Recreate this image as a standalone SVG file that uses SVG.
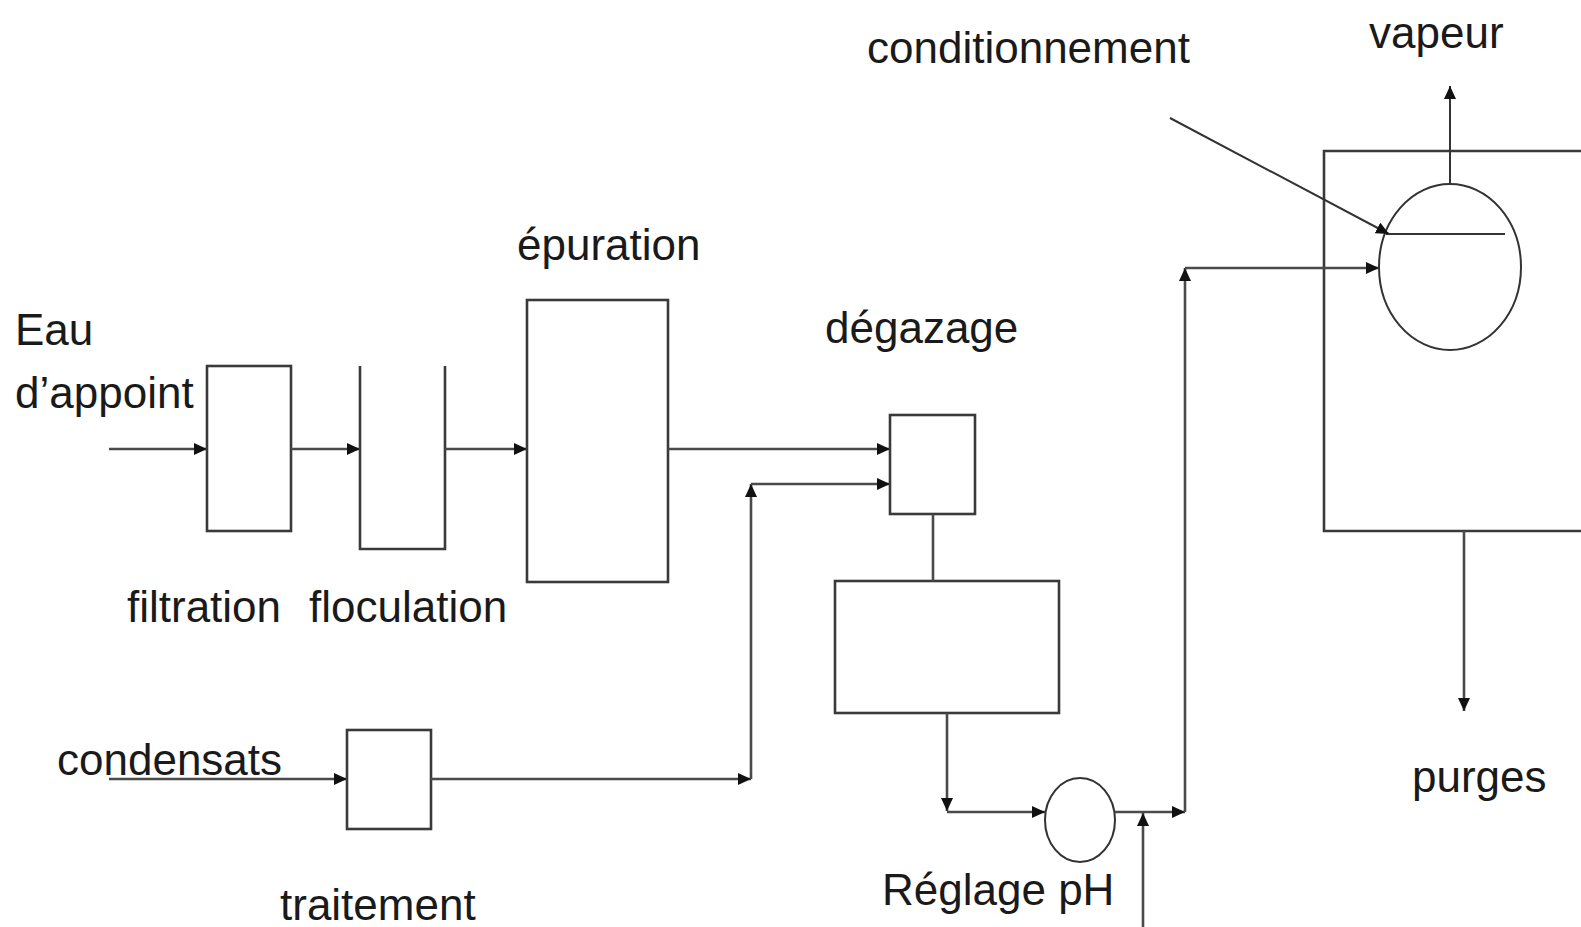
<svg xmlns="http://www.w3.org/2000/svg" width="1581" height="927" viewBox="0 0 1581 927">
  <style>
    .box { fill: none; stroke: #3a3a3a; stroke-width: 2.6; }
    .flow { fill: none; stroke: #4a4a4a; stroke-width: 2.6; }
    .thin { fill: none; stroke: #333; stroke-width: 2; }
    .lbl { font-family: "Liberation Sans", Arial, sans-serif; font-size: 44px; fill: #1a1a1a; }
  </style>
  <defs>
    <marker id="arrow" markerUnits="userSpaceOnUse" markerWidth="14" markerHeight="12" refX="13" refY="6" orient="auto">
      <path d="M0,0 L13,6 L0,12 Z" fill="#111"/>
    </marker>
  </defs>
  <rect width="1581" height="927" fill="#fff"/>

  <!-- process units -->
  <g id="filtration">
    <rect class="box" x="207" y="366" width="84" height="165"/>
    <text class="lbl" x="127" y="622">filtration</text>
  </g>
  <g id="floculation">
    <path class="box" d="M360,366 V549 H445 V366"/>
    <text class="lbl" x="309" y="622">floculation</text>
  </g>
  <g id="epuration">
    <rect class="box" x="527" y="300" width="141" height="282"/>
    <text class="lbl" x="517" y="260">épuration</text>
  </g>
  <g id="degazage">
    <rect class="box" x="890" y="415" width="85" height="99"/>
    <text class="lbl" x="825" y="343">dégazage</text>
  </g>
  <g id="bache">
    <rect class="box" x="835" y="581" width="224" height="132"/>
  </g>
  <g id="traitement">
    <rect class="box" x="347" y="730" width="84" height="99"/>
    <text class="lbl" x="280" y="920">traitement</text>
  </g>
  <g id="reglage-ph">
    <ellipse class="thin" cx="1080" cy="820" rx="35" ry="42"/>
    <text class="lbl" x="882" y="905">Réglage pH</text>
  </g>
  <g id="chaudiere">
    <path class="box" d="M1600,151 H1324 V531 H1600"/>
    <ellipse class="thin" cx="1450" cy="267" rx="71" ry="83"/>
    <line class="thin" x1="1386" y1="234" x2="1505" y2="234"/>
  </g>
  <g id="eau-appoint">
    <text class="lbl" x="15" y="345">Eau</text>
    <text class="lbl" x="15" y="408">d’appoint</text>
  </g>
  <g id="condensats">
    <text class="lbl" x="57" y="775">condensats</text>
  </g>
  <g id="vapeur">
    <text class="lbl" x="1369" y="48">vapeur</text>
  </g>
  <g id="conditionnement">
    <text class="lbl" x="867" y="63">conditionnement</text>
  </g>
  <g id="purges">
    <text class="lbl" x="1412" y="792">purges</text>
  </g>

  <!-- flows -->
  <g id="connectors">
    <line class="flow" x1="109" y1="449" x2="207" y2="449" marker-end="url(#arrow)"/>
    <line class="flow" x1="291" y1="449" x2="360" y2="449" marker-end="url(#arrow)"/>
    <line class="flow" x1="445" y1="449" x2="527" y2="449" marker-end="url(#arrow)"/>
    <line class="flow" x1="668" y1="449" x2="890" y2="449" marker-end="url(#arrow)"/>
    <line class="flow" x1="109" y1="779" x2="347" y2="779" marker-end="url(#arrow)"/>
    <line class="flow" x1="431" y1="779" x2="751" y2="779" marker-end="url(#arrow)"/>
    <line class="flow" x1="751" y1="779" x2="751" y2="484" marker-end="url(#arrow)"/>
    <line class="flow" x1="751" y1="484" x2="890" y2="484" marker-end="url(#arrow)"/>
    <line class="flow" x1="933" y1="514" x2="933" y2="581"/>
    <line class="flow" x1="947" y1="713" x2="947" y2="811" marker-end="url(#arrow)"/>
    <line class="flow" x1="947" y1="812" x2="1045" y2="812" marker-end="url(#arrow)"/>
    <line class="flow" x1="1115" y1="812" x2="1185" y2="812" marker-end="url(#arrow)"/>
    <line class="flow" x1="1143" y1="927" x2="1143" y2="813" marker-end="url(#arrow)"/>
    <line class="flow" x1="1185" y1="812" x2="1185" y2="268" marker-end="url(#arrow)"/>
    <line class="flow" x1="1185" y1="268" x2="1379" y2="268" marker-end="url(#arrow)"/>
    <line class="thin" x1="1170" y1="118" x2="1389" y2="234" marker-end="url(#arrow)"/>
    <line class="thin" x1="1450" y1="184" x2="1450" y2="86" marker-end="url(#arrow)"/>
    <line class="flow" x1="1464" y1="531" x2="1464" y2="711" marker-end="url(#arrow)"/>
  </g>
</svg>
